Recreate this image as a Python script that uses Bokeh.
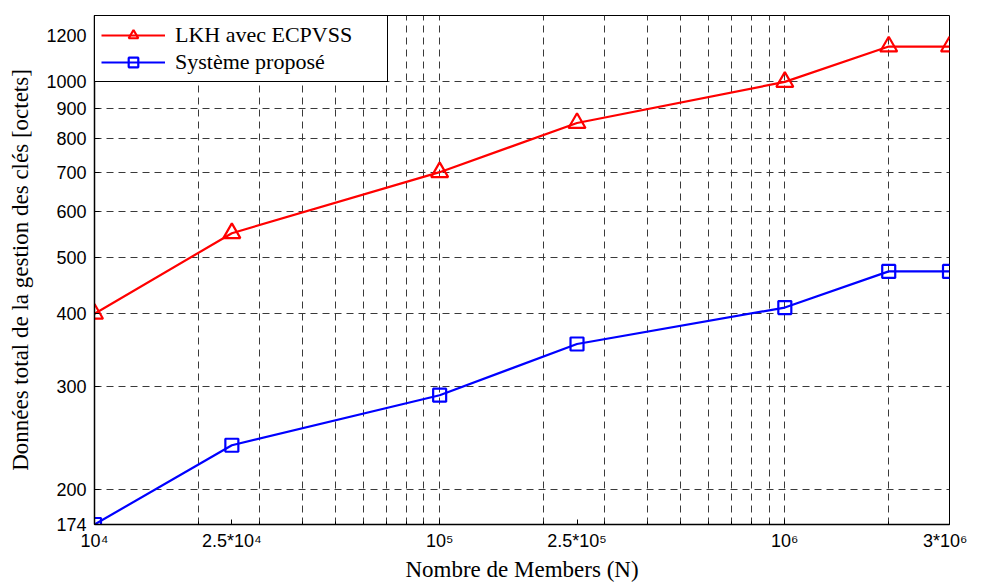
from bokeh.plotting import figure
from bokeh.models import Range1d, FixedTicker
from bokeh.embed import file_html
from bokeh.resources import INLINE

# ---- data ----
members = [1e4, 2.5e4, 1e5, 2.5e5, 1e6, 2e6, 3e6]
lkh_ecpvss = [400, 550, 700, 850, 1000, 1150, 1150]
systeme_propose = [174, 238, 290, 355, 410, 473, 473]

series_names = ["LKH avec ECPVSS", "Système proposé"]

x_major_ticks = [10000, 25000, 100000, 250000, 1000000, 3000000]
x_major_labels = ["10⁴", "2.5*10⁴", "10⁵", "2.5*10⁵", "10⁶", "3*10⁶"]
x_minor_ticks = [20000, 30000, 40000, 50000, 60000, 70000, 80000, 90000,
                 200000, 300000, 400000, 500000, 600000, 700000, 800000, 900000,
                 2000000]
x_grid_ticks = [10000, 20000, 30000, 40000, 50000, 60000, 70000, 80000, 90000,
                100000, 200000, 300000, 400000, 500000, 600000, 700000, 800000, 900000,
                1000000, 2000000, 3000000]

y_ticks = [174, 200, 300, 400, 500, 600, 700, 800, 900, 1000, 1200]
y_labels = ["174", "200", "300", "400", "500", "600", "700", "800", "900", "1000", "1200"]
y_grid_ticks = [200, 300, 400, 500, 600, 700, 800, 900, 1000]

SERIF = "Liberation Serif"
SANS = "Liberation Sans"

p = figure(width=967, height=584,
           x_axis_type="log", y_axis_type="log",
           x_range=Range1d(1e4, 3e6), y_range=Range1d(174, 1300),
           output_backend="svg", toolbar_location=None,
           min_border_left=94, min_border_right=18,
           min_border_top=15, min_border_bottom=60)

p.background_fill_color = "white"
p.border_fill_color = "white"
p.outline_line_color = "black"
p.outline_line_width = 1
p.outline_line_alpha = 1

# axes
p.xaxis.ticker = FixedTicker(ticks=x_major_ticks, minor_ticks=x_minor_ticks)
p.xaxis.major_label_overrides = dict(zip(x_major_ticks, x_major_labels))
p.yaxis.ticker = FixedTicker(ticks=y_ticks, minor_ticks=[])
p.yaxis.major_label_overrides = dict(zip(y_ticks, y_labels))

for ax in (p.xaxis, p.yaxis):
    ax.axis_line_color = "black"
    ax.axis_line_width = 1.5
    ax.major_tick_in = 5
    ax.major_tick_out = 0
    ax.minor_tick_in = 3
    ax.minor_tick_out = 0
    ax.major_tick_line_color = "black"
    ax.minor_tick_line_color = "black"
    ax.major_label_text_font = SANS
    ax.major_label_text_font_size = "18px"
    ax.major_label_text_color = "black"
    ax.axis_label_text_font = SERIF
    ax.axis_label_text_font_style = "normal"
    ax.axis_label_text_font_size = "23px"
    ax.axis_label_text_color = "black"

p.xaxis.axis_label = "Nombre de Members (N)"
p.yaxis.axis_label = "Données total de la gestion des clés [octets]"
p.xaxis.major_label_standoff = 6
p.xaxis.axis_label_standoff = 3
p.yaxis.major_label_standoff = 8
p.yaxis.axis_label_standoff = 10

# grid
p.xgrid.ticker = FixedTicker(ticks=x_grid_ticks)
p.ygrid.ticker = FixedTicker(ticks=y_grid_ticks)
for g in (p.xgrid, p.ygrid):
    g.grid_line_color = "#3a3a3a"
    g.grid_line_alpha = 1
    g.grid_line_width = 1
    g.grid_line_dash = "7 5"

# series
p.line(members, lkh_ecpvss, line_color="red", line_width=2.2, legend_label=series_names[0])
p.scatter(members, lkh_ecpvss, marker="triangle", size=17, line_color="red",
          line_width=2.2, fill_alpha=0, legend_label=series_names[0])

p.line(members, systeme_propose, line_color="blue", line_width=2.2, legend_label=series_names[1])
p.scatter(members, systeme_propose, marker="square", size=13, line_color="blue",
          line_width=2.2, fill_alpha=0, legend_label=series_names[1])

leg = p.legend[0]
leg.location = "top_left"
leg.margin = 0
leg.padding = 6
leg.spacing = 1
leg.glyph_width = 64
leg.glyph_height = 24
leg.label_height = 24
leg.label_width = 206
leg.label_standoff = 10
leg.label_text_font = SERIF
leg.label_text_font_size = "22px"
leg.label_text_color = "black"
leg.border_line_color = "black"
leg.border_line_width = 1
leg.border_line_alpha = 1
leg.background_fill_color = "white"
leg.background_fill_alpha = 1

with open("out.html", "w") as f:
    f.write(file_html(p, INLINE))
